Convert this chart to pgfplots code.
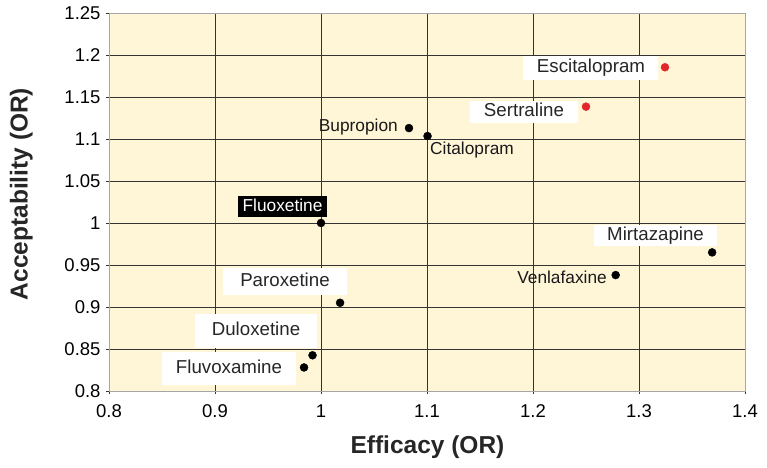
\documentclass[border=0pt]{standalone}
\usepackage{pgfplots}
\pgfplotsset{compat=1.18}
\usepackage{fontspec}
\setmainfont{Liberation Sans}
\definecolor{bgc}{HTML}{FFF5D7}
\definecolor{dotred}{HTML}{E3262B}
\definecolor{gridc}{HTML}{333333}
\begin{document}
\begin{tikzpicture}
\begin{axis}[
  scale only axis, width=636pt, height=378pt,
  xmin=0.8, xmax=1.4, ymin=0.8, ymax=1.25,
  xtick={0.8,0.9,...,1.41}, ytick={0.8,0.85,...,1.26},
  xticklabels={0.8,0.9,1,1.1,1.2,1.3,1.4},
  yticklabels={0.8,0.85,0.9,0.95,1,1.05,1.1,1.15,1.2,1.25},
  axis background/.style={fill=bgc},
  grid=major, major grid style={gridc, line width=0.8pt},
  axis line style={gray!70, line width=0.8pt},
  tick align=outside, major tick length=3pt,
  tick style={gridc, line width=0.8pt},
  xtick pos=bottom, ytick pos=left,
  /pgf/number format/assume math mode=true,
  tick label style={font=\fontsize{18.5}{20}\selectfont, text=black},
  yticklabel style={xshift=-2pt},
  xticklabel style={yshift=-7pt},
  xlabel={Efficacy (OR)}, ylabel={Acceptability (OR)},
  label style={font=\fontsize{24.5}{28}\selectfont\bfseries, text=black!85},
  xlabel style={at={(axis description cs:0.5008,-0.148)}, anchor=center},
  ylabel style={at={(axis description cs:-0.138,0.521)}, anchor=center, rotate=0},
  clip=false,
]
\path (axis description cs:-0.1714,1.0344) rectangle (axis description cs:1.0346,-0.2037);
\addplot[only marks, mark=*, mark size=4pt, black] coordinates {
  (1.083,1.113) (1.1005,1.1035) (1.0,1.0) (1.018,0.905)
  (0.992,0.8425) (0.984,0.828) (1.278,0.938) (1.369,0.965)};
\addplot[only marks, mark=*, mark size=4pt, dotred, mark options={draw=dotred}] coordinates {
  (1.3245,1.1854) (1.25,1.1385)};
\tikzset{wb/.style={fill=white, inner sep=0pt, text height=13.5pt, text depth=4pt,
  font=\fontsize{18.7}{20}\selectfont, text=black!85},
  nb/.style={inner sep=0pt, font=\fontsize{17.3}{19}\selectfont, text=black!90}}
\node[wb, minimum width=135pt, minimum height=24pt] at (axis cs:1.2547,1.1845) {Escitalopram};
\node[wb, minimum width=108pt, minimum height=22pt] at (axis cs:1.1915,1.1321) {Sertraline};
\node[wb, minimum width=123pt, minimum height=21pt] at (axis cs:1.3156,0.9851) {Mirtazapine};
\node[wb, minimum width=124pt, minimum height=27pt] at (axis cs:0.966,0.9304) {Paroxetine};
\node[wb, minimum width=122pt, minimum height=34pt] at (axis cs:0.9387,0.8714) {Duloxetine};
\node[wb, minimum width=134pt, minimum height=33pt] at (axis cs:0.9132,0.8268) {Fluvoxamine};
\node[fill=black, text=white, inner sep=0pt, minimum width=89pt, minimum height=21pt,
  text height=12.5pt, text depth=3pt, font=\fontsize{17.3}{19}\selectfont] at (axis cs:0.9637,1.0196) {Fluoxetine};
\node[nb, anchor=east] at (axis cs:1.0726,1.1143) {Bupropion};
\node[nb, anchor=west] at (axis cs:1.1028,1.0869) {Citalopram};
\node[nb, anchor=east] at (axis cs:1.2698,0.9357) {Venlafaxine};
\end{axis}
\end{tikzpicture}
\end{document}
